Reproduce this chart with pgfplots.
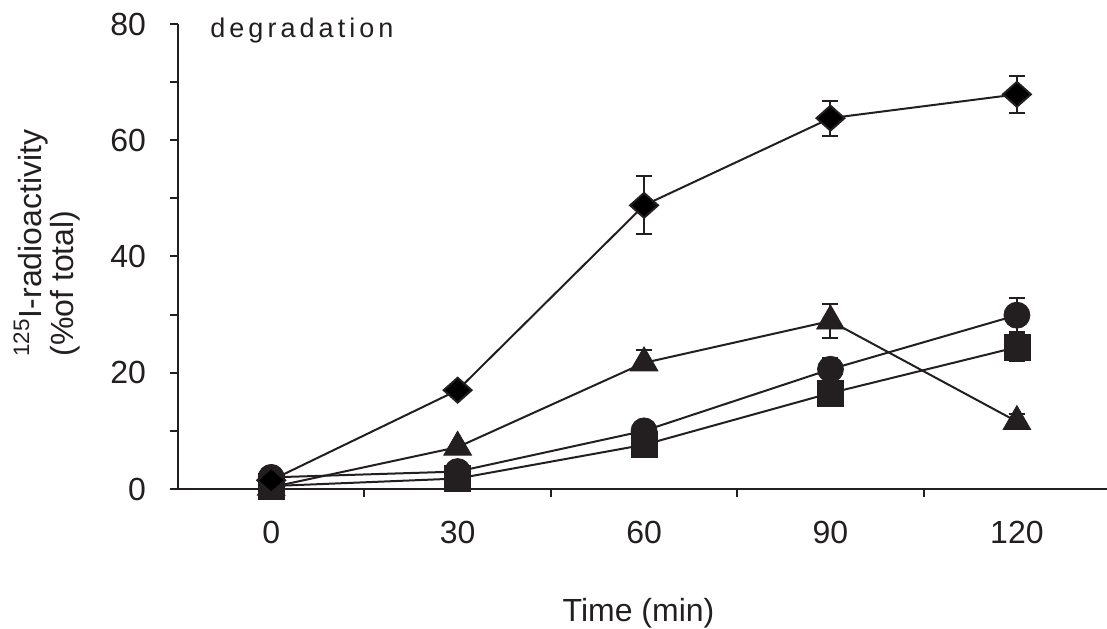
\documentclass[border=0pt]{standalone}
\usepackage{fontspec}
\setmainfont{Liberation Sans}
\usepackage{pgfplots}
\pgfplotsset{compat=1.18}
\definecolor{ink}{HTML}{231F20}
\pgfplotstableread{
x y ep em
0 1.5 0 0
30 17 0 0
60 48.8 5 5
90 63.8 3 3
120 67.9 3.2 3.2
}\diamonddata
\pgfplotstableread{
x y ep em
0 0.3 0 0
30 7.2 0 0
60 21.7 2.2 0
90 28.9 3 3
120 11.6 1.3 0
}\triangledata
\pgfplotstableread{
x y ep em
0 2.0 0 0
30 3.0 0 0
60 10.0 0 0
90 20.6 2 0
120 29.9 2.9 2.9
}\circledata
\pgfplotstableread{
x y ep em
0 0.5 0 0
30 1.8 0 0
60 7.6 0 0
90 16.5 0 0
120 24.4 2.4 2.4
}\squaredata
\pgfplotsset{
 ser/.style={line width=1pt, draw=ink,
   mark options={solid, fill=ink, draw=ink, line width=0.4pt},
   /pgfplots/error bars/y dir=both, /pgfplots/error bars/y explicit,
   /pgfplots/error bars/error mark=-,
   /pgfplots/error bars/error bar style={line width=1pt, draw=ink},
   /pgfplots/error bars/error mark options={rotate=90, line width=1pt, mark size=4pt, draw=ink}},
}
\begin{document}
\begin{tikzpicture}
\begin{axis}[
 scale only axis, width=464.5pt, height=232.5pt,
 xmin=-15, xmax=134.5, ymin=0, ymax=80,
 axis x line*=bottom, axis y line*=left,
 axis line style={line width=1pt, draw=ink},
 tick style={line width=1pt, draw=ink},
 tick align=outside, major tick length=4pt, minor tick length=4pt,
 xtick={15,45,75,105}, xticklabels={},
 extra x ticks={0,30,60,90,120},
 extra x tick style={tick style={draw=none}},
 ytick={0,20,40,60,80}, minor ytick={10,30,50,70},
 font=\fontsize{16}{16}\selectfont,
 /pgf/number format/assume math mode=true,
 ticklabel style={text=ink},
 yticklabel style={xshift=-8.5pt},
 xticklabel style={yshift=-8.5pt},
 clip=false,
]
\addplot[ser, mark=square*, mark size=6.5pt] table[x=x, y=y, y error plus=ep, y error minus=em] {\squaredata};
\addplot[ser, mark=*, mark size=6.5pt] table[x=x, y=y, y error plus=ep, y error minus=em] {\circledata};
\addplot[ser, mark=triangle*, mark size=8pt] table[x=x, y=y, y error plus=ep, y error minus=em] {\triangledata};
\addplot[ser, mark=diamond*, mark size=6.2pt, mark options={xscale=1.5}] table[x=x, y=y, y error plus=ep, y error minus=em] {\diamonddata};
\node[anchor=base west, inner sep=0, text=ink, font=\fontsize{13.5}{13.5}\selectfont\addfontfeatures{LetterSpace=15}] at (axis description cs:0.0344,0.972) {degradation};
\node[anchor=base, inner sep=0, text=ink] at (axis description cs:0.4957,-0.286) {Time (min)};
\node[rotate=90, anchor=north west, align=left, inner sep=0, text=ink, font=\fontsize{16}{16}\selectfont] at (axis description cs:-0.1776,0.284) {\textsuperscript{125}I-radioactivity\\(\%of total)};
\coordinate (bl) at (axis description cs:-0.1916,-0.301);
\coordinate (tr) at (axis description cs:1.0,1.0516);
\end{axis}
\pgfresetboundingbox
\useasboundingbox (bl) rectangle (tr);
\end{tikzpicture}
\end{document}
